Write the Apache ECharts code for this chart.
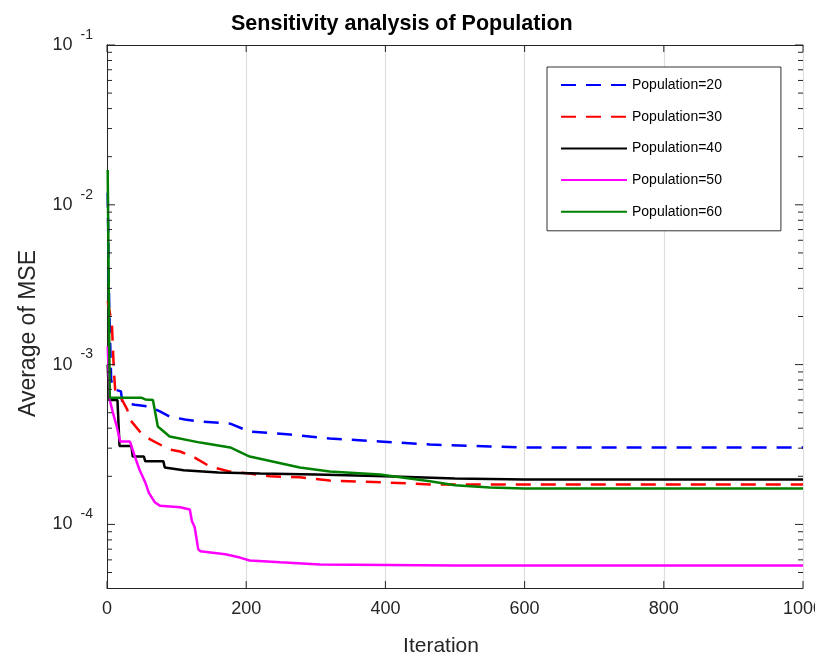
<!DOCTYPE html>
<html>
<head>
<meta charset="utf-8">
<script src="https://cdn.jsdelivr.net/npm/echarts@6/dist/echarts.min.js"></script>
<style>html,body{margin:0;padding:0;background:#fff;}#c{width:815px;height:657px;}</style>
</head>
<body>
<div id="c"></div>
<script>
// ---- data ----
const seriesNames = ['Population=20', 'Population=30', 'Population=40', 'Population=50', 'Population=60'];
const xTicks = [0, 200, 400, 600, 800, 1000];
const yDecades = [1e-4, 1e-3, 1e-2, 1e-1];

const iter20 = [1, 3, 6, 10, 20, 22, 40, 62, 76, 90, 112, 134, 177, 205, 263, 320, 392, 464, 550, 600, 1000];
const mse20  = [1.19e-2, 2.5e-3, 8.0e-4, 7.0e-4, 6.8e-4, 5.8e-4, 5.6e-4, 5.45e-4, 5.09e-4, 4.73e-4, 4.53e-4, 4.4e-4, 4.27e-4, 3.81e-4, 3.65e-4, 3.45e-4, 3.3e-4, 3.16e-4, 3.07e-4, 3.03e-4, 3.03e-4];

const iter30 = [1, 7, 10, 12, 20, 29, 33, 47, 62, 90, 105, 126, 148, 177, 205, 234, 277, 320, 400, 464, 1000];
const mse30  = [2.5e-3, 1.8e-3, 9.0e-4, 6.7e-4, 6.2e-4, 5.24e-4, 4.53e-4, 3.81e-4, 3.4e-4, 2.94e-4, 2.86e-4, 2.62e-4, 2.3e-4, 2.14e-4, 2.08e-4, 2.0e-4, 1.97e-4, 1.88e-4, 1.83e-4, 1.78e-4, 1.78e-4];

const iter40 = [1, 3, 15, 18, 35, 37, 53, 55, 81, 83, 110, 160, 220, 300, 400, 500, 600, 1000];
const mse40  = [1.0e-3, 6.0e-4, 6.0e-4, 3.1e-4, 3.1e-4, 2.66e-4, 2.66e-4, 2.48e-4, 2.48e-4, 2.27e-4, 2.18e-4, 2.11e-4, 2.08e-4, 2.05e-4, 2.0e-4, 1.94e-4, 1.91e-4, 1.91e-4];

const iter50 = [1, 4, 8, 14, 19, 33, 40, 47, 55, 60, 69, 76, 105, 119, 122, 126, 131, 134, 170, 191, 205, 249, 306, 500, 1000];
const mse50  = [1.3e-3, 6.0e-4, 5.1e-4, 4.1e-4, 3.3e-4, 3.3e-4, 2.66e-4, 2.18e-4, 1.83e-4, 1.58e-4, 1.37e-4, 1.31e-4, 1.28e-4, 1.24e-4, 1.05e-4, 9.6e-5, 7.0e-5, 6.8e-5, 6.5e-5, 6.2e-5, 5.95e-5, 5.8e-5, 5.62e-5, 5.54e-5, 5.54e-5];

const iter60 = [1, 4, 50, 55, 66, 73, 90, 134, 177, 205, 277, 320, 392, 464, 500, 550, 600, 1000];
const mse60  = [1.65e-2, 6.2e-4, 6.2e-4, 6.05e-4, 6.0e-4, 4.1e-4, 3.55e-4, 3.25e-4, 3.03e-4, 2.66e-4, 2.27e-4, 2.14e-4, 2.05e-4, 1.86e-4, 1.76e-4, 1.70e-4, 1.68e-4, 1.68e-4];

const yMin = 4e-5, yMax = 0.1;
// minor log ticks (2..9 x 10^k)
const minorTicks = [];
for (let e = -5; e <= -2; e++) for (let k = 2; k <= 9; k++) {
  const v = k * Math.pow(10, e);
  if (v > yMin && v < yMax) minorTicks.push(v);
}

// ---- chart ----
const pair = (xs, ys) => xs.map((x, i) => [x, ys[i]]);
const colors = ['#0000ff', '#ff0000', '#000000', '#ff00ff', '#008000'];
const dashed = [true, true, false, false, false];
const dataSets = [pair(iter20, mse20), pair(iter30, mse30), pair(iter40, mse40), pair(iter50, mse50), pair(iter60, mse60)];
const FONT = 'Liberation Sans, Arial, sans-serif';
const axisColor = '#262626';

const chart = echarts.init(document.getElementById('c'), null, {renderer: 'canvas'});

const lineSeries = seriesNames.map((n, i) => ({
  name: n, type: 'line', data: dataSets[i], symbol: 'none',
  lineStyle: {color: colors[i], width: 2.5, type: dashed[i] ? [15, 10] : 'solid'},
  itemStyle: {color: colors[i]}, z: 3 + i, animation: false, clip: true
}));

// tick marks drawn inside the box on all four sides (through the axes' scales)
const tickStyle = {stroke: axisColor, lineWidth: 1};
const yTickSeries = {
  type: 'custom', silent: true, animation: false, z: 10,
  data: yDecades.map(v => [0, v, 8]).concat(minorTicks.map(v => [0, v, 5])),
  renderItem: function (params, api) {
    const v = api.value(1), len = api.value(2);
    const p = api.coord([0, v]);
    const q = api.coord([1000, v]);
    return {type: 'group', children: [
      {type: 'line', shape: {x1: p[0], y1: p[1], x2: p[0] + len, y2: p[1]}, style: tickStyle},
      {type: 'line', shape: {x1: q[0], y1: q[1], x2: q[0] - len, y2: q[1]}, style: tickStyle}
    ]};
  }
};
const xTickSeries = {
  type: 'custom', silent: true, animation: false, z: 10,
  data: xTicks.map(x => [x, yMin]),
  renderItem: function (params, api) {
    const x = api.value(0);
    const p = api.coord([x, yMin]);
    const q = api.coord([x, yMax]);
    return {type: 'group', children: [
      {type: 'line', shape: {x1: p[0], y1: p[1], x2: p[0], y2: p[1] - 7}, style: tickStyle},
      {type: 'line', shape: {x1: q[0], y1: q[1], x2: q[0], y2: q[1] + 7}, style: tickStyle}
    ]};
  }
};

const yLabelFmt = v => {
  const e = Math.round(Math.log10(v));
  return '{b|10}{e|' + e + '}';
};

chart.setOption({
  animation: false,
  backgroundColor: '#ffffff',
  title: {
    text: 'Sensitivity analysis of Population', left: 226, top: 8,
    textStyle: {fontFamily: FONT, fontSize: 21.5, fontWeight: 'bold', color: '#000'}
  },
  grid: {left: 107, right: 12, top: 45, bottom: 69, containLabel: false, outerBoundsMode: 'none'},
  legend: {
    data: seriesNames, orient: 'vertical', left: 547, top: 67,
    padding: [11, 59, 12, 13], itemWidth: 66, itemHeight: 14, itemGap: 17.7,
    backgroundColor: '#fff', borderColor: '#333', borderWidth: 1,
    itemStyle: {opacity: 0},
    textStyle: {fontFamily: FONT, fontSize: 14, color: '#000'}, z: 20
  },
  xAxis: [{
    type: 'value', min: 0, max: 1000, interval: 200, position: 'bottom',
    name: 'Iteration', nameLocation: 'middle', nameGap: 48,
    nameTextStyle: {fontFamily: FONT, fontSize: 21, color: axisColor, padding: [0, 28, 0, 0]},
    axisLine: {show: true, lineStyle: {color: axisColor, width: 1}},
    axisTick: {show: false},
    axisLabel: {margin: 12, fontFamily: FONT, fontSize: 18, color: axisColor,
      formatter: v => xTicks.includes(v) ? String(v) : ''},
    splitLine: {show: true, lineStyle: {color: '#dedede', width: 1.2}}
  }, {
    type: 'value', min: 0, max: 1000, interval: 200, position: 'top',
    axisLine: {show: true, lineStyle: {color: axisColor, width: 1}},
    axisTick: {show: false}, axisLabel: {show: false}, splitLine: {show: false}
  }],
  yAxis: [{
    type: 'log', logBase: 10, min: yMin, max: yMax, position: 'left',
    name: 'Average of MSE', nameLocation: 'middle', nameGap: 67, nameRotate: 90,
    nameTextStyle: {fontFamily: FONT, fontSize: 23, color: axisColor, padding: [0, 34, 0, 0]},
    axisLine: {show: true, lineStyle: {color: axisColor, width: 1}},
    axisTick: {show: false},
    axisLabel: {
      showMinLabel: false, margin: 14, formatter: yLabelFmt,
      rich: {
        b: {fontFamily: FONT, fontSize: 18, color: axisColor, verticalAlign: 'middle', lineHeight: 34, padding: [0, 8, 0, 0]},
        e: {fontFamily: FONT, fontSize: 14, color: axisColor, verticalAlign: 'top', lineHeight: 15}
      }
    },
    splitLine: {show: false}
  }, {
    type: 'log', logBase: 10, min: yMin, max: yMax, position: 'right',
    axisLine: {show: true, lineStyle: {color: axisColor, width: 1}},
    axisTick: {show: false}, axisLabel: {show: false}, splitLine: {show: false}
  }],
  series: lineSeries.concat([yTickSeries, xTickSeries])
});
</script>
</body>
</html>
